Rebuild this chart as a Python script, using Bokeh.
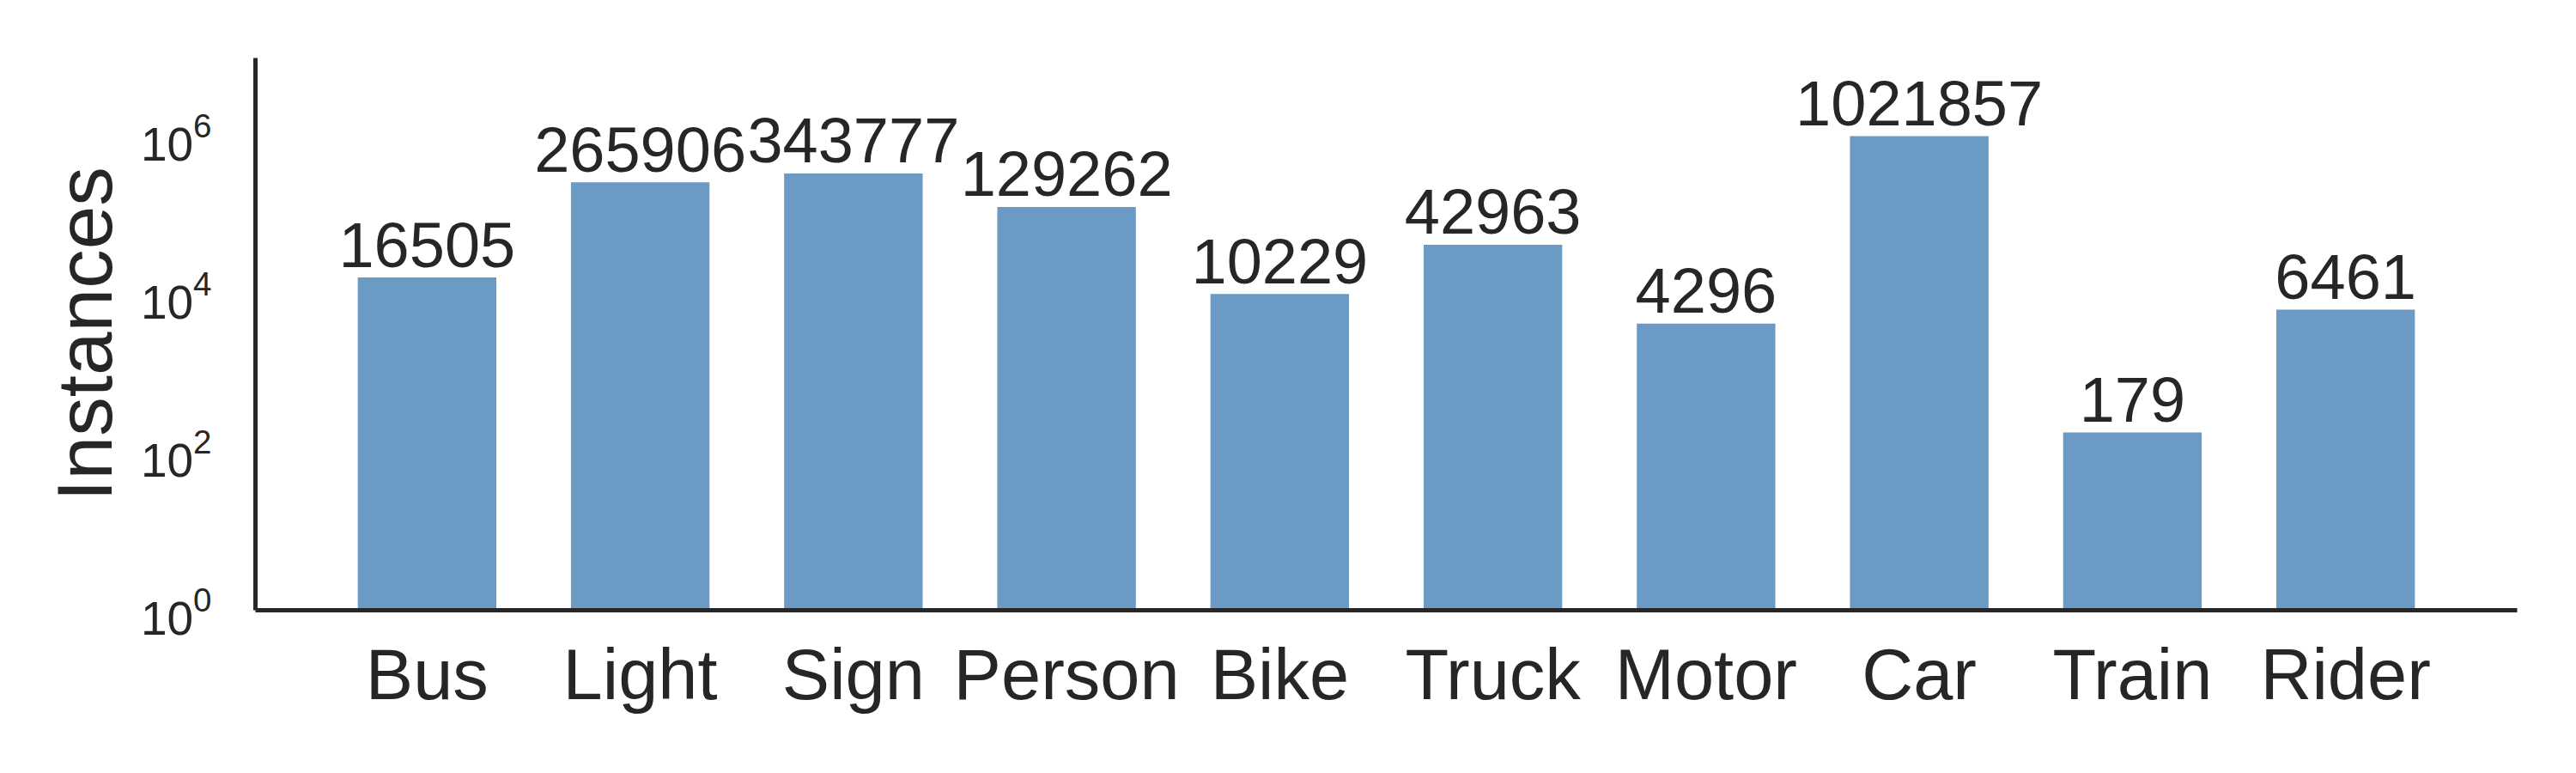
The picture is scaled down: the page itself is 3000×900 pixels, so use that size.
from bokeh.plotting import figure
from bokeh.models import Range1d, FixedTicker, LogTickFormatter, ColumnDataSource, Label
from bokeh.core.properties import value
from bokeh.embed import file_html
from bokeh.resources import INLINE

categories = ["Bus", "Light", "Sign", "Person", "Bike", "Truck", "Motor", "Car", "Train", "Rider"]
instances = [16505, 265906, 343777, 129262, 10229, 42963, 4296, 1021857, 179, 6461]
y_ticks = [1, 100, 10000, 1000000]

FONT = "Liberation Sans"
DARK = "#262626"
BAR = "#6b9ac4"

xs = list(range(len(categories)))
src = ColumnDataSource(dict(x=xs, top=instances, label=[str(v) for v in instances]))

p = figure(width=2996, height=896, output_backend="svg", toolbar_location=None,
           y_axis_type="log", x_range=Range1d(-0.805, len(categories) - 1 + 0.805),
           y_range=Range1d(1, 1e7),
           min_border_left=297, min_border_right=65, min_border_top=67, min_border_bottom=186)

p.vbar(x="x", top="top", bottom=1, width=0.65, source=src, fill_color=BAR, line_color=None)
p.text(x="x", y="top", text="label", source=src, text_align="center", text_baseline="alphabetic",
       y_offset=-38, text_font=value(FONT), text_font_size="74px", text_color=DARK)

p.grid.visible = False
p.outline_line_color = None
p.background_fill_color = "white"
p.border_fill_color = "white"

xa = p.xaxis[0]
xa.ticker = FixedTicker(ticks=xs, minor_ticks=[])
xa.major_label_overrides = {i: c for i, c in enumerate(categories)}
xa.major_label_text_font = FONT
xa.major_label_text_font_size = "83px"
xa.major_label_text_color = DARK
xa.major_label_standoff = 22
xa.major_tick_line_color = None
xa.minor_tick_line_color = None
xa.axis_line_color = DARK
xa.axis_line_width = 5

ya = p.yaxis[0]
ya.ticker = FixedTicker(ticks=y_ticks, minor_ticks=[])
ya.formatter = LogTickFormatter()
ya.major_label_text_font = FONT
ya.major_label_text_font_size = "55px"
ya.major_label_text_color = DARK
ya.major_label_standoff = 45
ya.major_tick_line_color = None
ya.minor_tick_line_color = None
ya.axis_line_color = DARK
ya.axis_line_width = 5
ya.axis_label = "Instances"
ya.axis_label_text_font = FONT
ya.axis_label_text_font_size = "91px"
ya.axis_label_text_font_style = "normal"
ya.axis_label_text_color = DARK
ya.axis_label_standoff = 12

p.add_layout(Label(x=2453, y=-177, x_units="screen", y_units="screen",
                   text="https://blog.csdn.net/qq_37555071", text_font=FONT,
                   text_baseline="alphabetic",
                   text_font_size="15.5px", text_color="#e6e6e6"))

open("out.html", "w").write(file_html(p, INLINE))
